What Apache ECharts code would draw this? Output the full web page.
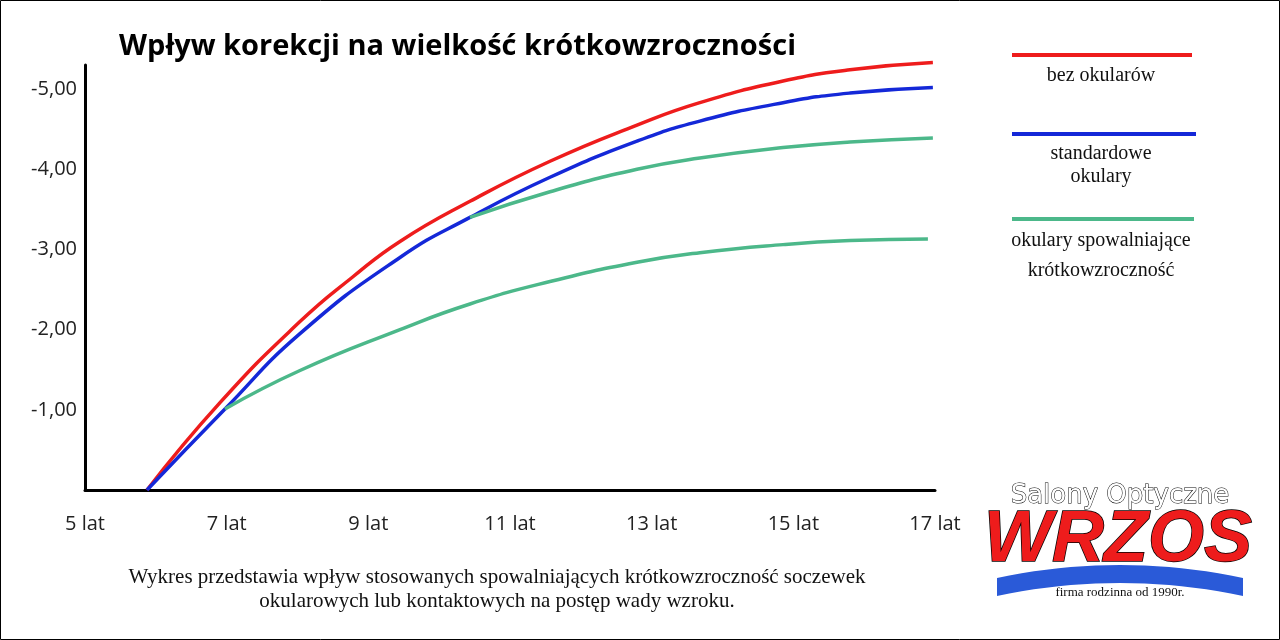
<!DOCTYPE html>
<html><head><meta charset="utf-8">
<script src="https://cdn.jsdelivr.net/npm/echarts@6/dist/echarts.min.js"></script>
<style>html,body{margin:0;padding:0;background:#fff}#c{width:1280px;height:640px}</style>
</head><body><div id="c"></div>
<script>
const xTicks = [5,7,9,11,13,15,17];
const yTicks = [1,2,3,4,5];
const redData = [[5.875,0],[6.906,1.09],[8.035,2.1],[8.77,2.65],[9.447,3.1],[10.435,3.6],[11.565,4.1],[12.793,4.55],[13.68,4.83],[14.855,5.1],[15.8,5.24],[16.97,5.33]];
const blueData = [[5.875,0],[6.976,1.01],[8.035,1.95],[9.447,2.9],[10.435,3.4],[11.565,3.9],[12.793,4.35],[13.68,4.6],[14.855,4.83],[15.8,4.95],[16.97,5.02]];
const greenLow = [[6.976,1.01],[8.035,1.49],[9.447,2.0],[10.435,2.32],[11.565,2.6],[12.793,2.84],[13.68,2.96],[14.855,3.06],[15.8,3.11],[16.9,3.13]];
const greenHigh = [[10.435,3.4],[11.565,3.72],[12.793,4.0],[13.68,4.14],[14.855,4.27],[15.8,4.34],[16.97,4.39]];
const RED='#ee1c1c', BLUE='#1428d8', GREEN='#4cb88a';
const chart = echarts.init(document.getElementById('c'));
const line=(d,c)=>({type:'line',data:d,smooth:0.5,showSymbol:false,clip:false,lineStyle:{color:c,width:3.5},z:3});
const swoosh=[];
for(let i=0;i<=20;i++){const x=997+i*12.3,t=i/20;swoosh.push([x,578-13*4*t*(1-t)]);}
for(let i=20;i>=0;i--){const x=997+i*12.3,t=i/20;swoosh.push([x,596-13*4*t*(1-t)]);}
chart.setOption({
  animation:false,
  grid:{left:85,top:65,width:850,height:425},
  title:{text:'Wpływ korekcji na wielkość krótkowzroczności',left:114,top:27,textStyle:{fontFamily:'Open Sans',fontWeight:'bold',fontSize:29,color:'#000'}},
  xAxis:{type:'value',min:5,max:17,interval:2,axisLine:{lineStyle:{color:'#000',width:3}},axisTick:{show:false},splitLine:{show:false},
    axisLabel:{formatter:v=>xTicks.includes(v)?v+' lat':'',fontFamily:'Open Sans',fontSize:20,color:'#222',margin:24}},
  yAxis:{type:'value',min:0,max:5.3,interval:1,axisLine:{show:true,lineStyle:{color:'#000',width:3}},axisTick:{show:false},splitLine:{show:false},
    axisLabel:{formatter:v=>yTicks.includes(v)?'-'+v+',00':'',fontFamily:'Open Sans',fontSize:20,color:'#222',margin:8}},
  series:[line(redData,RED),line(blueData,BLUE),line(greenLow,GREEN),line(greenHigh,GREEN)],
  graphic:[
    {type:'rect',shape:{x:0.5,y:0.5,width:1279,height:639},style:{fill:'none',stroke:'#000',lineWidth:1}},
    {type:'line',shape:{x1:1012,y1:55,x2:1192,y2:55},style:{stroke:RED,lineWidth:4}},
    {type:'text',style:{x:1101,y:66,text:'bez okularów',align:'center',font:'20px "Liberation Serif"',fill:'#111'}},
    {type:'line',shape:{x1:1012,y1:134,x2:1196,y2:134},style:{stroke:BLUE,lineWidth:4}},
    {type:'text',style:{x:1101,y:142,text:'standardowe\nokulary',align:'center',lineHeight:23,font:'20px "Liberation Serif"',fill:'#111'}},
    {type:'line',shape:{x1:1012,y1:219,x2:1194,y2:219},style:{stroke:GREEN,lineWidth:4}},
    {type:'text',style:{x:1101,y:226,text:'okulary spowalniające\nkrótkowzroczność',align:'center',lineHeight:30,font:'20px "Liberation Serif"',fill:'#111'}},
    {type:'text',style:{x:497,y:565,text:'Wykres przedstawia wpływ stosowanych spowalniających krótkowzroczność soczewek\nokularowych lub kontaktowych na postęp wady wzroku.',align:'center',lineHeight:24,font:'21px "Liberation Serif"',fill:'#111'}},
    {type:'text',style:{x:1120,y:483,text:'Salony Optyczne',align:'center',font:'26px "DejaVu Sans"',fill:'#fff',stroke:'#000',lineWidth:1}},
    {type:'polygon',shape:{points:swoosh},style:{fill:'#2a5ad8'}},
    {type:'text',style:{x:1118,y:505,text:'WRZOS',align:'center',font:'italic bold 72px "Liberation Sans"',fill:RED,stroke:'#000',lineWidth:1.5}},
    {type:'text',style:{x:1120,y:586,text:'firma rodzinna od 1990r.',align:'center',font:'13px "Liberation Serif"',fill:'#111'}}
  ]
});
</script></body></html>
